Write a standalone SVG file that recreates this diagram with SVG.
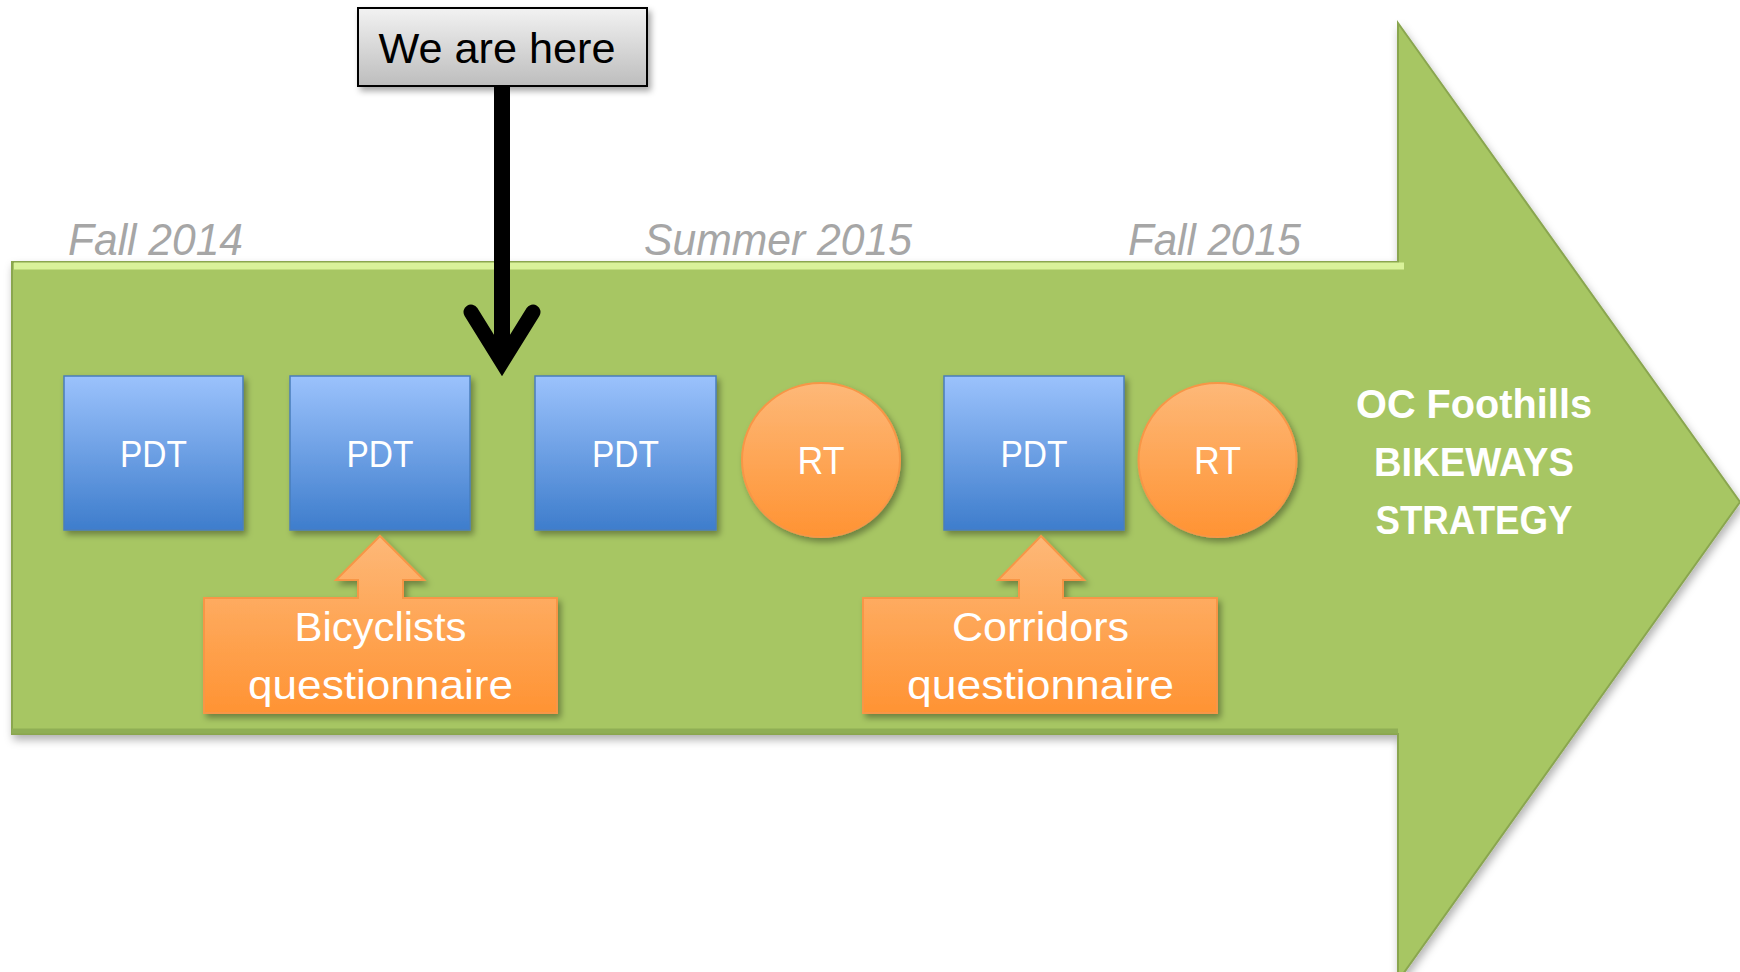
<svg xmlns="http://www.w3.org/2000/svg" width="1740" height="972" viewBox="0 0 1740 972">
<defs>
<linearGradient id="gBlue" x1="0" y1="0" x2="0" y2="1"><stop offset="0" stop-color="#9BC2FC"/><stop offset="1" stop-color="#3E7DCC"/></linearGradient>
<linearGradient id="gOrange" x1="0" y1="0" x2="0" y2="1"><stop offset="0" stop-color="#FDB878"/><stop offset="1" stop-color="#FF9333"/></linearGradient>
<linearGradient id="gGray" x1="0" y1="0" x2="0" y2="1"><stop offset="0" stop-color="#F2F2F2"/><stop offset="1" stop-color="#BDBDBD"/></linearGradient>
<filter id="sh" x="-10%" y="-10%" width="130%" height="130%"><feDropShadow dx="3" dy="4" stdDeviation="3" flood-color="#000" flood-opacity="0.35"/></filter>
<filter id="shBig" x="-5%" y="-5%" width="110%" height="115%"><feDropShadow dx="2" dy="5" stdDeviation="4" flood-color="#000" flood-opacity="0.3"/></filter>
</defs>
<style>
.t{font-family:"Liberation Sans",Arial,sans-serif;fill:#fff;text-anchor:middle}
.date{font-family:"Liberation Sans",Arial,sans-serif;fill:#A6A6A6;font-style:italic;font-size:44px}
.pdt{fill:url(#gBlue);stroke:#4A7EBB;stroke-width:1.5;filter:url(#sh)}
.rt{fill:url(#gOrange);stroke:#F79646;stroke-width:2;filter:url(#sh)}
.q{fill:url(#gOrange);stroke:#F79646;stroke-width:2;filter:url(#sh)}
</style>
<rect width="1740" height="972" fill="#fff"/>
<g id="timeline">
<polygon points="12,262 1398,262 1398,23 1740,502 1398,981 1398,734 12,734" fill="#A7C663" stroke="#8AA650" stroke-width="2" filter="url(#shBig)"/>
<polyline points="14,266 1404,266" stroke="#D9F29A" stroke-width="7" fill="none"/>
<polyline points="12,731 1398,731" stroke="#8FAE55" stroke-width="5" fill="none"/>
</g>
<g id="dates">
<text class="date" x="68" y="255" textLength="175" lengthAdjust="spacingAndGlyphs">Fall 2014</text>
<text class="date" x="644" y="255" textLength="268" lengthAdjust="spacingAndGlyphs">Summer 2015</text>
<text class="date" x="1128" y="255" textLength="173" lengthAdjust="spacingAndGlyphs">Fall 2015</text>
</g>
<g id="pdt1"><rect class="pdt" x="64" y="376" width="179" height="154"/><text class="t" x="153.5" y="467" font-size="36" textLength="67" lengthAdjust="spacingAndGlyphs">PDT</text></g>
<g id="pdt2"><rect class="pdt" x="290" y="376" width="180" height="154"/><text class="t" x="380" y="467" font-size="36" textLength="67" lengthAdjust="spacingAndGlyphs">PDT</text></g>
<g id="pdt3"><rect class="pdt" x="535" y="376" width="181" height="154"/><text class="t" x="625.5" y="467" font-size="36" textLength="67" lengthAdjust="spacingAndGlyphs">PDT</text></g>
<g id="rt1"><ellipse class="rt" cx="821" cy="460" rx="79" ry="77"/><text class="t" x="821" y="474" font-size="38" textLength="47" lengthAdjust="spacingAndGlyphs">RT</text></g>
<g id="pdt4"><rect class="pdt" x="944" y="376" width="180" height="154"/><text class="t" x="1034" y="467" font-size="36" textLength="67" lengthAdjust="spacingAndGlyphs">PDT</text></g>
<g id="rt2"><ellipse class="rt" cx="1217.5" cy="460" rx="79" ry="77"/><text class="t" x="1217.5" y="474" font-size="38" textLength="47" lengthAdjust="spacingAndGlyphs">RT</text></g>
<g id="goal">
<text class="t" x="1474" y="418" font-size="40" font-weight="bold" textLength="236" lengthAdjust="spacingAndGlyphs">OC Foothills</text>
<text class="t" x="1474" y="476" font-size="40" font-weight="bold" textLength="200" lengthAdjust="spacingAndGlyphs">BIKEWAYS</text>
<text class="t" x="1474" y="534" font-size="40" font-weight="bold" textLength="197" lengthAdjust="spacingAndGlyphs">STRATEGY</text>
</g>
<g id="bicyclists">
<path class="q" d="M204,598 H358 V580 H336 L380,536 L424,580 H403 V598 H557 V713 H204 Z"/>
<text class="t" x="380.5" y="641" font-size="40" textLength="172" lengthAdjust="spacingAndGlyphs">Bicyclists</text>
<text class="t" x="380.5" y="699" font-size="40" textLength="265" lengthAdjust="spacingAndGlyphs">questionnaire</text>
</g>
<g id="corridors">
<path class="q" d="M863,598 H1019 V580 H998 L1041,536 L1084,580 H1063 V598 H1217 V713 H863 Z"/>
<text class="t" x="1040.5" y="641" font-size="40" textLength="177" lengthAdjust="spacingAndGlyphs">Corridors</text>
<text class="t" x="1040.5" y="699" font-size="40" textLength="267" lengthAdjust="spacingAndGlyphs">questionnaire</text>
</g>
<g id="connectors">
<line x1="502" y1="86" x2="502" y2="356" stroke="#000" stroke-width="16"/>
<polyline points="471,312 502,362 533,312" fill="none" stroke="#000" stroke-width="15" stroke-linecap="round" stroke-linejoin="miter" stroke-miterlimit="10"/>
</g>
<g id="here">
<rect x="358" y="8" width="289" height="78" fill="url(#gGray)" stroke="#000" stroke-width="2" filter="url(#sh)"/>
<text x="497" y="63" font-family="'Liberation Sans',Arial,sans-serif" font-size="43" fill="#000" text-anchor="middle" textLength="237" lengthAdjust="spacingAndGlyphs">We are here</text>
</g>
</svg>
